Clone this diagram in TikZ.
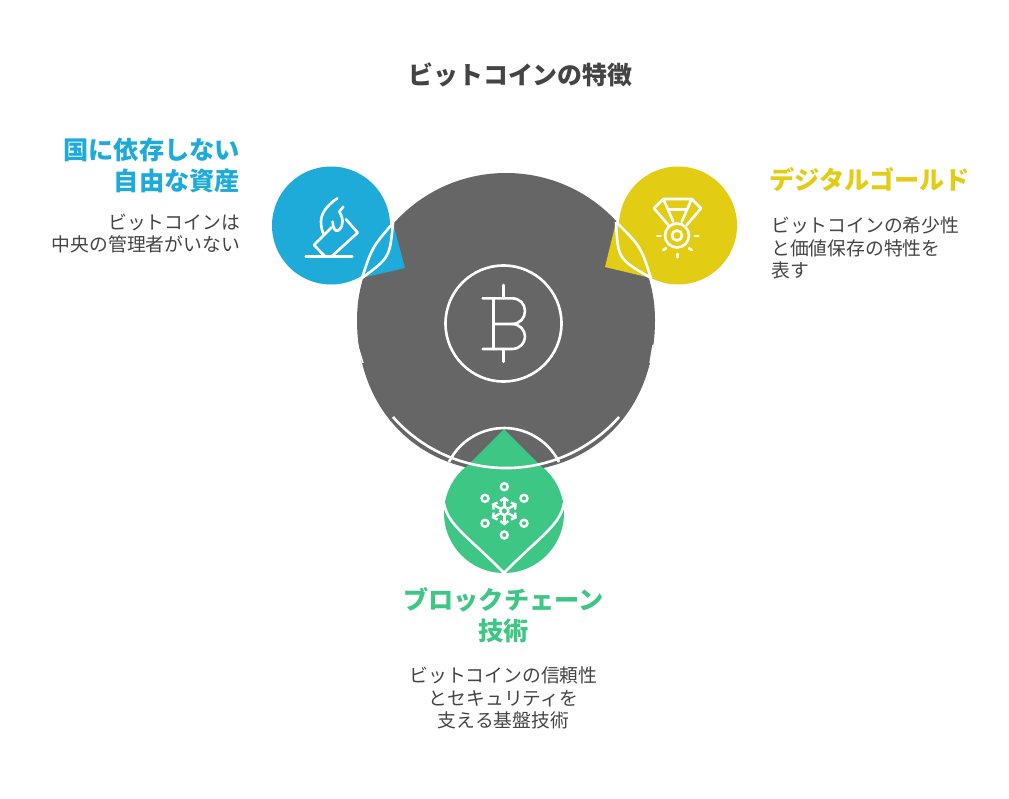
\documentclass[tikz,border=0pt]{standalone}
\usepackage{fontspec}
\setmainfont{Noto Sans CJK JP}
\usepackage{tikz}
\usetikzlibrary{arrows.meta, positioning}

\definecolor{hubgray}{HTML}{666666}
\definecolor{inkgray}{HTML}{444444}
\definecolor{voteblue}{HTML}{1EABDA}
\definecolor{goldyellow}{HTML}{E2CC14}
\definecolor{chaingreen}{HTML}{3EC684}

\tikzset{
  bubble/.style = {circle, inner sep=0pt, minimum size=118pt},
  seam/.style = {white, line width=2.6pt},
  glyph/.style = {white, line width=2.6pt, line cap=round, line join=round},
  headtext/.style = {inner sep=0pt, font=\fontsize{25.2}{31}\selectfont\bfseries},
  desctext/.style = {inner sep=0pt, text=inkgray, font=\fontsize{18.8}{22.5}\selectfont},
}

\begin{document}
\begin{tikzpicture}[x=1pt, y=-1pt]
   \useasboundingbox (0,0) rectangle (1009,798);

   % title
   \node (title)[inner sep=0pt, text=inkgray, font=\fontsize{24.9}{30}\selectfont\bfseries] at (520.5,75) {ビットコインの特徴};

   % bubbles and the hub
   \node (bluedot)[bubble, fill=voteblue] at (331,225.5) {};
   \node (golddot)[bubble, fill=goldyellow] at (678,225.5) {};
   \node (greendot)[bubble, fill=chaingreen, minimum size=120pt] at (504,513) {};

   \fill[hubgray] (655,320) arc[start angle=0, end angle=180, x radius=149pt, y radius=147pt]
      .. controls (357,410) and (418,472) .. (506,472)
      .. controls (594,472) and (655,410) .. (655,320) -- cycle;

   % wedges into the hub
   \coordinate (bluetop) at (393,223);
   \coordinate (bluelow) at (362,278);
   \coordinate (goldtop) at (616,222);
   \coordinate (goldlow) at (651,278);
   \coordinate (greentip) at (504,429);

   \fill[voteblue] (bluetop) -- (405,268) -- (bluelow)
      .. controls (389.7,257.5) .. (bluetop) -- cycle;
   \fill[voteblue] (bluetop) .. controls (389.7,257.5) .. (bluelow)
      .. controls (372,247.5) .. (bluetop) -- cycle;
   \fill[goldyellow] (goldtop) -- (605,267) -- (goldlow)
      .. controls (617.9,258.8) .. (goldtop) -- cycle;
   \fill[goldyellow] (goldtop) .. controls (617.9,258.8) .. (goldlow)
      .. controls (640.5,246) .. (goldtop) -- cycle;
   \fill[chaingreen] (greentip) -- (458,475) -- (550,475) -- cycle;

   % white seams
   \draw[seam] (bluetop) .. controls (389.7,257.5) .. (bluelow);
   \draw[seam] (bluetop) .. controls (372,247.5) .. (bluelow);
   \draw[seam] (goldtop) .. controls (617.9,258.8) .. (goldlow);
   \draw[seam] (goldtop) .. controls (640.5,246) .. (goldlow);
   \draw[seam] (449,462) arc[start angle=153.4, end angle=26.6, radius=61.5pt];
   \draw[seam] (393,417) arc[start angle=221.4, end angle=318.6, radius=150.7pt];
   \draw[seam] (444,503) .. controls (447,525) and (470,538) .. (504,573);
   \draw[seam] (564,503) .. controls (561,525) and (538,538) .. (504,573);
   \draw[white, line width=1.4pt] (357.5,345) -- (363,363);
   \draw[white, line width=1.4pt] (653,345) -- (650,363);

   % bitcoin sign
   \node (coinring)[circle, draw=white, line width=2.6pt, inner sep=0pt, minimum size=116pt] at (503.5,323.5) {};
   \draw[glyph] (503.3,285) -- (503.3,298.3);
   \draw[glyph] (503.3,349) -- (503.3,361.7);
   \draw[glyph] (493.3,298.3) -- (493.3,349);
   \draw[glyph] (482.7,298.3) -- (511.7,298.3)
      .. controls (520,298.3) and (525,304) .. (525,311)
      .. controls (525,318) and (520,324) .. (511.7,324) -- (493.3,324);
   \draw[glyph] (511.7,324)
      .. controls (520,324) and (525,330) .. (525,336.7)
      .. controls (525,343) and (520,349) .. (511.7,349) -- (482.7,349);

   % ballot and flame
   \draw[glyph] (305.7,256.3) -- (352.3,256.3);
   \draw[glyph] (331.7,227.3) -- (314,245) -- (325,256.3);
   \draw[glyph] (331.7,256.3) -- (357.7,232.7) -- (346,219.3);
   \draw[glyph] (337.3,198.3) .. controls (326,206) and (321,214) .. (321,221.7)
      .. controls (321,227) and (322,231) .. (324,235);
   \draw[glyph] (343.3,206.7) -- (339.3,211.7)
      .. controls (342,216) and (343,220) .. (342.3,223.3)
      .. controls (341.5,231) and (335,233) .. (334,228.3)
      .. controls (333,226) and (332.7,224) .. (332.7,221.7);

   % medal
   \draw[glyph] (663.3,199) -- (691.7,199) -- (701,208.3) -- (686.7,225);
   \draw[glyph] (663.3,199) -- (654,208.3) -- (668.3,225);
   \draw[glyph] (663.3,199) -- (673.3,221.7);
   \draw[glyph] (691.7,199) -- (681.7,221.7);
   \draw[glyph] (668.3,209.3) -- (686.7,209.3);
   \node (medalrim)[circle, draw=white, line width=2.6pt, inner sep=0pt, minimum size=24pt, fill=goldyellow] at (677,235.5) {};
   \node (medalcore)[circle, draw=white, line width=2.6pt, inner sep=0pt, minimum size=10pt] at (677,235.5) {};
   \draw[glyph] (657.3,236) -- (660.7,236);
   \draw[glyph] (695,236) -- (698.3,236);
   \draw[glyph] (677.3,254) -- (677.3,257.3);
   \draw[glyph] (663.3,250) -- (666,248.3);
   \draw[glyph] (689,248.3) -- (691.7,250);

   % network of blocks
   \node (hubring)[circle, draw=white, line width=2.4pt, inner sep=0pt, minimum size=8pt] at (504.3,511) {};
   \foreach \ang in {90,30,-30,-90,-150,150}
      \draw[white, line width=2.4pt, -{Straight Barb[length=3pt, width=8pt]}]
         (hubring.\ang) -- ([shift={(\ang:14.5pt)}]hubring.center);
   \foreach \nm/\px/\py in {na/504.3/486.7, nb/485/498.3, nc/524/498.3, nd/485/523.3, ne/524/523.3, nf/504.3/535}
      \node (\nm)[circle, draw=white, line width=2.4pt, inner sep=0pt, minimum size=7pt] at (\px,\py) {};

   % labels
   \node (bluehead)[headtext, text=voteblue, align=right, anchor=north east] at (240,138) {国に依存しない\\自由な資産};
   \node (bluedesc)[desctext, align=right, below left = 20pt and 0pt of bluehead.south east] {ビットコインは\\中央の管理者がいない};

   \node (goldhead)[headtext, text=goldyellow, anchor=west] at (769,180) {デジタルゴールド};
   \node (golddesc)[desctext, align=left, below right = 24.5pt and 2pt of goldhead.south west] {ビットコインの希少性\\と価値保存の特性を\\表す};

   \node (greenhead)[headtext, text=chaingreen, align=center, anchor=north] at (503.5,587) {ブロックチェーン\\技術};
   \node (greendesc)[desctext, align=center, below = 24pt of greenhead] {ビットコインの信頼性\\とセキュリティを\\支える基盤技術};
\end{tikzpicture}
\end{document}
